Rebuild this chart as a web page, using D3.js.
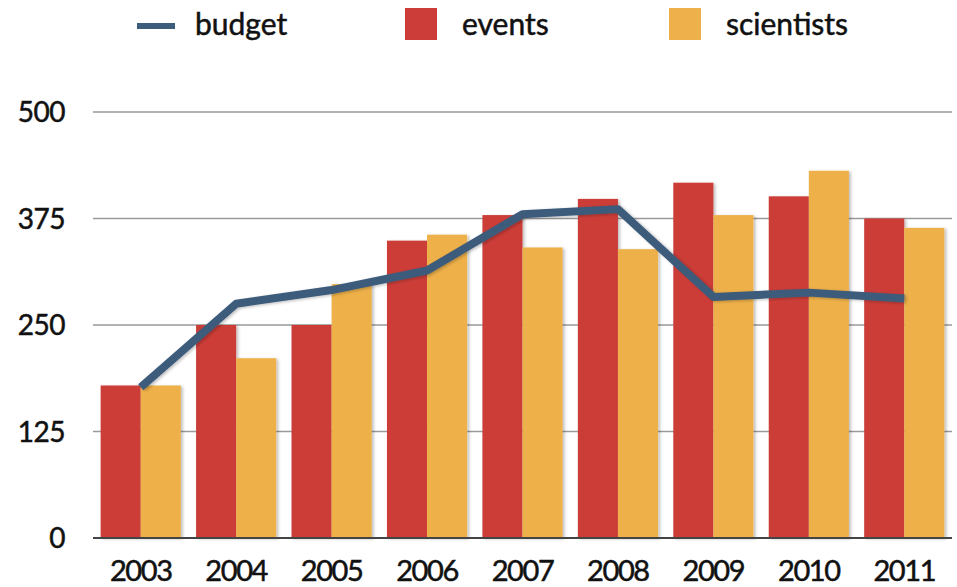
<!DOCTYPE html>
<html>
<head>
<meta charset="utf-8">
<script src="https://cdn.jsdelivr.net/npm/d3@7"></script>
<style>
  body { margin: 0; background: #fff; }
  text { font-family: "Gill Sans", "Lato", "Noto Sans", sans-serif; fill: #111; stroke: #111; stroke-width: 0.5px; }
</style>
</head>
<body>
<div id="chart"></div>
<script>
// values
const years = ['2003', '2004', '2005', '2006', '2007', '2008', '2009', '2010', '2011'];
const events = [179, 250, 250, 349, 379, 398, 417, 401, 375];
const scientists = [179, 211, 298, 356, 341, 339, 379, 431, 364];
const budget = [177, 275, 291, 314, 380, 386, 283, 288, 281];
const yTicks = [0, 125, 250, 375, 500];

const width = 957;
const height = 587;
const plotLeft = 93, plotRight = 952, plotTop = 112, plotBottom = 538;

const red = '#cc3c38';
const orange = '#eeb04a';
const blue = '#3e5c7b';

const svg = d3.select('#chart')
  .append('svg')
  .attr('width', width)
  .attr('height', height);

const defs = svg.append('defs');
const shadow = defs.append('filter').attr('id', 'shadow')
  .attr('x', '-20%').attr('y', '-20%').attr('width', '140%').attr('height', '140%');
shadow.append('feDropShadow')
  .attr('dx', 2).attr('dy', 1).attr('stdDeviation', 1.5)
  .attr('flood-color', '#000').attr('flood-opacity', 0.25);

/* Scales */
const x = d3.scaleBand().domain(years).range([plotLeft, plotRight]);
const y = d3.scaleLinear().domain([0, 500]).range([plotBottom, plotTop]);
const barW = x.bandwidth() * 0.42;

/* Grid */
svg.append('g')
  .selectAll('line')
  .data(yTicks.filter(d => d > 0))
  .enter()
  .append('line')
  .attr('x1', plotLeft).attr('x2', plotRight)
  .attr('y1', d => y(d)).attr('y2', d => y(d))
  .attr('stroke', '#9a9a9a')
  .attr('stroke-width', 1.5);

/* Y labels */
svg.append('g')
  .selectAll('text')
  .data(yTicks)
  .enter()
  .append('text')
  .attr('x', 65)
  .attr('y', d => y(d))
  .attr('dy', '0.36em')
  .attr('text-anchor', 'end')
  .style('font-size', '28px')
  .style('letter-spacing', '-0.5px')
  .text(d => d);

/* Bars */
const groups = svg.append('g')
  .selectAll('g')
  .data(years)
  .enter()
  .append('g')
  .attr('filter', 'url(#shadow)');

groups.append('rect')
  .attr('x', d => x(d) + x.bandwidth() / 2 - barW)
  .attr('y', (d, i) => y(events[i]))
  .attr('width', barW)
  .attr('height', (d, i) => y(0) - y(events[i]))
  .attr('fill', red);

groups.append('rect')
  .attr('x', d => x(d) + x.bandwidth() / 2)
  .attr('y', (d, i) => y(scientists[i]))
  .attr('width', barW)
  .attr('height', (d, i) => y(0) - y(scientists[i]))
  .attr('fill', orange);

/* Zero axis */
svg.append('line')
  .attr('x1', plotLeft).attr('x2', plotRight)
  .attr('y1', y(0)).attr('y2', y(0))
  .attr('stroke', '#444')
  .attr('stroke-width', 2);

/* Budget line */
const line = d3.line()
  .x((d, i) => x(years[i]) + x.bandwidth() / 2)
  .y(d => y(d));

svg.append('path')
  .attr('d', line(budget))
  .attr('fill', 'none')
  .attr('stroke', blue)
  .attr('stroke-width', 8)
  .attr('stroke-linejoin', 'round')
  .attr('filter', 'url(#shadow)');

/* X labels */
svg.append('g')
  .selectAll('text')
  .data(years)
  .enter()
  .append('text')
  .attr('x', d => x(d) + x.bandwidth() / 2)
  .attr('y', 581)
  .attr('text-anchor', 'middle')
  .style('font-size', '29px')
  .style('letter-spacing', '-1.4px')
  .text(d => d);

/* Legend */
const legend = svg.append('g');
legend.append('line')
  .attr('x1', 137).attr('x2', 175)
  .attr('y1', 26).attr('y2', 26)
  .attr('stroke', blue).attr('stroke-width', 6);
legend.append('text').attr('x', 195).attr('y', 35)
  .style('font-size', '30px').text('budget');
legend.append('rect').attr('x', 405).attr('y', 8).attr('width', 32).attr('height', 32)
  .attr('fill', red);
legend.append('text').attr('x', 462).attr('y', 35)
  .style('font-size', '30px').text('events');
legend.append('rect').attr('x', 669).attr('y', 8).attr('width', 32).attr('height', 32)
  .attr('fill', orange);
legend.append('text').attr('x', 726).attr('y', 35)
  .style('font-size', '30px').text('scientists');
</script>
</body>
</html>
